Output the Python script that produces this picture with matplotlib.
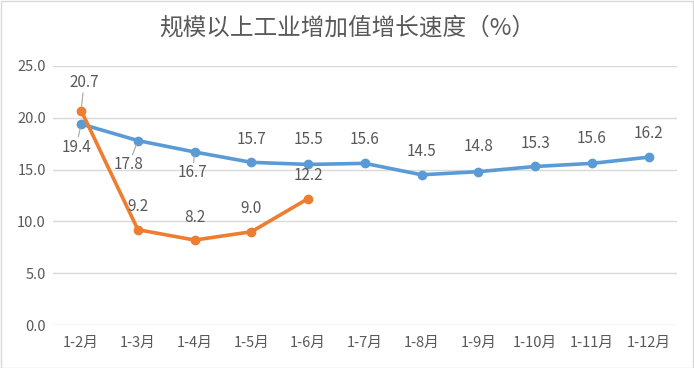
import matplotlib.pyplot as plt
from matplotlib.patches import Rectangle

plt.rcParams['font.family'] = ['Noto Sans CJK SC', 'DejaVu Sans']

# data
months = ['1-2月', '1-3月', '1-4月', '1-5月', '1-6月', '1-7月',
          '1-8月', '1-9月', '1-10月', '1-11月', '1-12月']
blue_vals = [19.4, 17.8, 16.7, 15.7, 15.5, 15.6, 14.5, 14.8, 15.3, 15.6, 16.2]
orange_vals = [20.7, 9.2, 8.2, 9.0, 12.2]
yticks = [0, 5, 10, 15, 20, 25]

blue = '#5B9BD5'
orange = '#ED7D31'
txt = '#595959'
grid = '#D9D9D9'

fig = plt.figure(figsize=(6.94, 3.68), dpi=100)
ax = fig.add_axes([0.076, 0.1168, 0.8995, 0.7039])

x_b = list(range(len(blue_vals)))
x_o = list(range(len(orange_vals)))
ax.plot(x_b, blue_vals, color=blue, lw=2.6, marker='o', ms=6, zorder=3)
ax.plot(x_o, orange_vals, color=orange, lw=2.6, marker='o', ms=6, zorder=4)

ax.set_xlim(-0.5, len(months) - 0.5)
ax.set_ylim(0, 25)
ax.set_yticks(yticks)
ax.set_yticklabels([f'{v:.1f}' for v in yticks])
ax.set_xticks(x_b)
ax.set_xticklabels(months)
ax.tick_params(length=0, labelsize=10.5, colors=txt)
ax.tick_params(axis='x', pad=8)
ax.tick_params(axis='y', pad=5)
ax.grid(axis='y', color=grid, lw=1)
ax.set_axisbelow(True)
for s in ax.spines.values():
    s.set_visible(False)

# label offsets in pixels (dx, dy), leader line flag
blue_off = [(-5, -23, True), (-9, -24, True), (-2, -21, True), (0, 23, False),
            (0, 25, False), (0, 24, False), (0, 23, False), (0, 25, False),
            (0, 23, False), (0, 25, False), (0, 24, False)]
orange_off = [(3, 28, True), (0, 23, False), (0, 23, False), (0, 23, False),
              (0, 23, False)]

def label(xs, vals, offs):
    for xi, v, (dx, dy, lead) in zip(xs, vals, offs):
        kw = {}
        if lead:
            kw['arrowprops'] = dict(arrowstyle='-', color='#A6A6A6', lw=0.8,
                                    patchA=None, shrinkA=7.5, shrinkB=3)
        ax.annotate(f'{v:.1f}', (xi, v), xytext=(dx, dy),
                    textcoords='offset pixels', ha='center', va='center',
                    fontsize=11, color=txt, zorder=5, **kw)

label(x_b, blue_vals, blue_off)
label(x_o, orange_vals, orange_off)

fig.text(0.5, 0.925, '规模以上工业增加值增长速度（%）', ha='center', va='center',
         fontsize=17, color=txt)

fig.patches.append(Rectangle((0.001, 0.001), 0.997, 0.996, transform=fig.transFigure,
                             fill=False, edgecolor=grid, lw=1))

fig.savefig('out.png', dpi=100)
